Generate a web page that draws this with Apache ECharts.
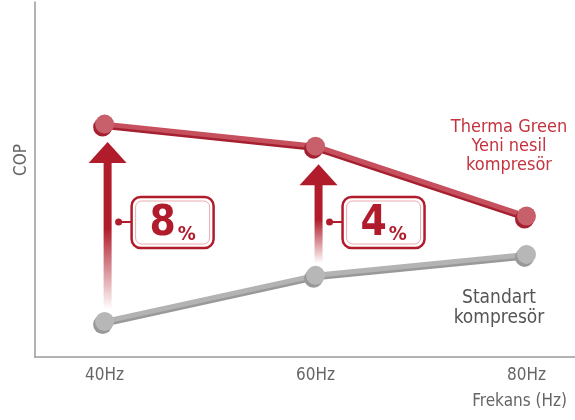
<!DOCTYPE html>
<html>
<head>
<meta charset="utf-8">
<script src="https://cdn.jsdelivr.net/npm/echarts@6/dist/echarts.min.js"></script>
<style>html,body{margin:0;padding:0;background:#fff}#c{width:575px;height:420px}</style>
</head>
<body>
<div id="c"></div>
<script>
// ---- data ----
const categories = ['40Hz', '60Hz', '80Hz'];
const freqs = [40, 60, 80];
const thermaGreen = [65.6, 59.4, 39.7];   // Therma Green Yeni nesil kompresör (relative COP)
const standart = [10.0, 23.0, 28.9];      // Standart kompresör (relative COP)
const gainFreqs = [40, 60];
const gainLabels = ['8', '4'];

const FONT = "'DejaVu Sans Condensed', sans-serif";
const RED = '#b01c2b';

const arrowData = gainFreqs.map((f, i) => {
  const k = freqs.indexOf(f);
  return [f, thermaGreen[k], standart[k], gainLabels[i]];
});

const chart = echarts.init(document.getElementById('c'));
chart.setOption({
  animation: false,
  grid: { left: 35, right: 0, top: 2, bottom: 63 },
  xAxis: {
    type: 'value', min: 33.4, max: 84.6,
    axisLine: { show: true, lineStyle: { color: '#9a9a9a', width: 1.5 } },
    axisTick: { show: false },
    splitLine: { show: false },
    axisLabel: {
      customValues: freqs,
      formatter: v => categories[freqs.indexOf(v)] || '',
      color: '#666', fontFamily: FONT, fontSize: 17, margin: 10
    },
    name: 'Frekans (Hz)', nameLocation: 'end', nameGap: -8,
    nameTextStyle: { color: '#666', fontFamily: FONT, fontSize: 17, align: 'right', verticalAlign: 'top', padding: [36, 0, 0, 0] }
  },
  yAxis: {
    type: 'value', min: 0, max: 100,
    axisLine: { show: true, lineStyle: { color: '#9a9a9a', width: 1.5 } },
    axisTick: { show: false }, axisLabel: { show: false }, splitLine: { show: false }
  },
  graphic: [
    { type: 'text', x: 22, y: 160, rotation: Math.PI / 2,
      style: { text: 'COP', fill: '#666', font: '17px ' + FONT, align: 'center', verticalAlign: 'middle' } },
    { type: 'text', x: 509, y: 146,
      style: { text: 'Therma Green\nYeni nesil\nkompresör', fill: '#c4333f', font: '18px ' + FONT, align: 'center', verticalAlign: 'middle', lineHeight: 19 } },
    { type: 'text', x: 499, y: 308,
      style: { text: 'Standart\nkompresör', fill: '#555', font: '19px ' + FONT, align: 'center', verticalAlign: 'middle', lineHeight: 20 } }
  ],
  series: [
    {
      type: 'custom', z: 1,
      data: arrowData,
      renderItem: (params, api) => {
        const top = api.coord([api.value(0), api.value(1)]);
        const bot = api.coord([api.value(0), api.value(2)]);
        const ax = top[0] + 3;
        const headTop = top[1] + 18;
        const headH = 21, headW = 38, shaftW = 8;
        const shaftTop = headTop + headH - 1;
        const shaftBot = bot[1] - 12;
        const by = 222;
        const txt = String(api.value(3));
        return {
          type: 'group',
          children: [
            { type: 'rect', shape: { x: ax - shaftW / 2, y: shaftTop, width: shaftW, height: shaftBot - shaftTop },
              style: { fill: new echarts.graphic.LinearGradient(0, 0, 0, 1, [
                { offset: 0, color: RED }, { offset: 0.45, color: RED }, { offset: 1, color: 'rgba(176,28,43,0)' }]) } },
            { type: 'polygon', shape: { points: [[ax, headTop], [ax + headW / 2, headTop + headH], [ax - headW / 2, headTop + headH]] },
              style: { fill: RED } },
            { type: 'line', shape: { x1: ax + 11, y1: by, x2: ax + 24, y2: by }, style: { stroke: RED, lineWidth: 2 } },
            { type: 'circle', shape: { cx: ax + 11, cy: by, r: 3.5 }, style: { fill: RED } },
            { type: 'rect', shape: { x: ax + 24, y: by - 25, width: 82, height: 51, r: 9 },
              style: { fill: '#fff', stroke: RED, lineWidth: 2.5 } },
            { type: 'rect', shape: { x: ax + 28, y: by - 21, width: 74, height: 43, r: 6 },
              style: { fill: 'none', stroke: '#e9aab0', lineWidth: 1 } },
            { type: 'text', x: ax + 65, y: by + 2,
              style: { text: '{a|' + txt + '}{b|%}', align: 'center', verticalAlign: 'middle',
                rich: {
                  a: { fontFamily: FONT, fontWeight: 'bold', fontSize: 42, fill: RED, verticalAlign: 'bottom' },
                  b: { fontFamily: FONT, fontWeight: 'bold', fontSize: 20, fill: RED, verticalAlign: 'bottom', padding: [0, 0, 0, 2] }
                } } }
          ]
        };
      }
    },
    {
      name: 'Standart kompresör', type: 'line', z: 3,
      data: freqs.map((f, i) => [f, standart[i]]),
      symbol: 'circle', symbolSize: 19,
      lineStyle: { color: '#b3b3b3', width: 5, shadowColor: '#999999', shadowOffsetY: 2.5, shadowBlur: 0 },
      itemStyle: { color: '#b7b7b7', shadowColor: '#999999', shadowOffsetX: -2, shadowOffsetY: 3, shadowBlur: 0 }
    },
    {
      name: 'Therma Green Yeni nesil kompresör', type: 'line', z: 4,
      data: freqs.map((f, i) => [f, thermaGreen[i]]),
      symbol: 'circle', symbolSize: 19,
      lineStyle: { color: '#c6505d', width: 5, shadowColor: '#a52030', shadowOffsetY: 2.5, shadowBlur: 0 },
      itemStyle: { color: '#c8606b', shadowColor: '#a52030', shadowOffsetX: -2, shadowOffsetY: 3, shadowBlur: 0 }
    }
  ]
});
</script>
</body>
</html>
